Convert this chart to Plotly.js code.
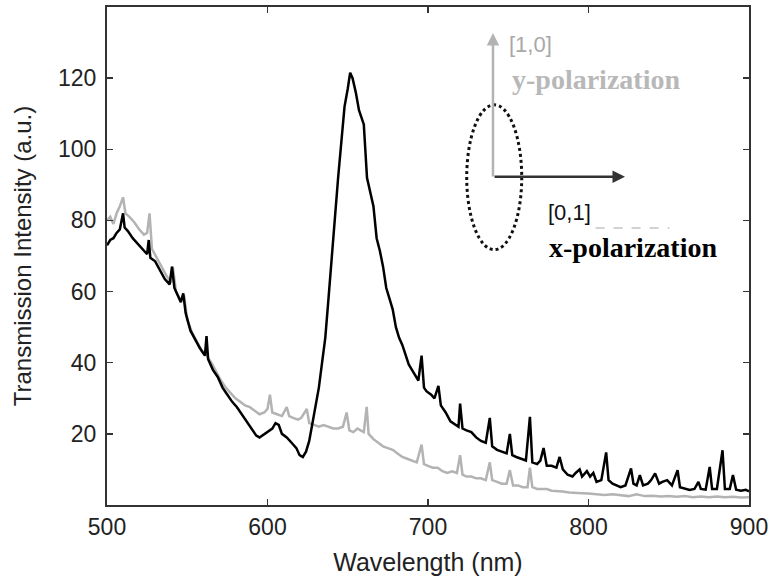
<!DOCTYPE html>
<html>
<head>
<meta charset="utf-8">
<script src="https://cdn.plot.ly/plotly-3.0.1.min.js"></script>
<style>html,body{margin:0;padding:0;background:#fff;}#chart{width:771px;height:581px;}</style>
</head>
<body>
<div id="chart"></div>
<script>
// x-polarization (black) spectrum
const wlX = [500,502,504,506,508,510,511,513,516,519,522,525,526,527,530,533,536,539,540.5,542,545,546,547.5,549,552,555,558,561,562,563,566,569,572,575,578,581,584,587,590,593,595,598,601,603,605,607,609,612,615,618,620,622,624,626,628,630,632,634,636,638,640,642,644,646,648,650,651.5,653,655,657,659,660,662,664,666,668,670,672,674,676,678,680,682,684,686,688,690,692,694,696,697.5,699,702,704,706.5,708,711,714,717,719,720,721.5,724,727,730,733,736,738.5,740,743,746,749,751,752.5,755,758,761,763.5,765,768,770,772,774,777,780,782,784,787,790,792,794.5,796,799,801,803,805,808,811,812.5,815,818,820,823,826.5,828,830,832,834,837,839,841.5,844,846,849,852,855.5,857,860,863,866,868.5,870,873,875.5,877,880,883.5,885,888,890,892,895,898,900];
const intX = [73,74.5,75,76.5,77.5,82,78,77,75,73.5,72,70.5,74.5,69.5,68.5,66,63.5,62,67,61,58,57,59.5,54,49,46.5,44,42,47.5,41,38,36,33,31,29,27.5,25.5,23.5,21.5,19.5,19,20,21,21.5,23,22.5,20,19,17.5,16,14,13.5,15,18,23,27.5,33,40,47,58,70,81,92,102,112,117,121.5,120,116,111,108,107,92,88,84,75,71.5,67,61,58,55,50,47,45,42.5,39.5,38,36.5,35,42,33,32,31,30,33.5,28,26,23.5,22.5,22,28.5,21.5,21,20.5,19,18,17.5,24.5,16.5,15.5,15,14.5,20,14,13.5,13,12.5,24.8,12,11.5,12.5,16,11,11,10.5,13.5,10,8.5,8,9,10,8,9.5,8,9,6.5,7,14.8,7,6,5.5,5,5.5,10.3,6,5.5,8.4,5.5,6,7,8.9,6,6.5,7,5.5,9.8,5,4.5,4.2,4.5,6.5,4.5,4.3,10.7,4.5,4.5,15.4,4.5,4.5,8.4,4.3,4,4.3,3.8];

// y-polarization (gray) spectrum
const wlY = [500,502,504,506,508,510,511.5,514,517,520,523,525,526.5,528,531,534,537,540,541,543,546,548,550,553,556,559,562,565,568,571,574,577,580,583,586,589,592,595,598,600,601.5,603,606,609,612,613.5,616,619,621,624.5,626,629,632,635,638,641,644,647,649.3,651,653.5,656,658,660,661.8,663,666,669,672,675,678,681,684,687,690,693,696,697.5,700,703,706,709,712,715,718,720,721.5,724,727,730,733,736,738.5,740,743,746,749,751,753,756,759,762,763.5,765,768,771,774,777,780,784,788,792,796,800,805,810,815,820,825,830,835,840,845,850,855,860,865,870,875,880,885,890,895,900];
const intY = [80,81,79,82,84,86.5,82,81,79.5,77.5,76,76.5,82,72,69.5,67,64.5,62.5,67,60,57.5,59,52,48.5,46,43.5,42,40,37.5,35,33,31.5,30,29,28,27.5,26.5,25.5,26,27,31,26,25.5,25,27.5,25,24.5,24,24.5,27,23,22.5,22,22.5,22,21.5,21.5,22,26,21,20.5,21.5,21,20.5,27.6,20,18.5,17.5,16.5,16,15.5,14.5,13.5,13,12.5,12,17,11.5,11,10.5,10.5,9.5,9,9.5,9,14,8.5,8,8,7.5,7.5,7,12,7,6.5,6,6,9.8,5.5,5.5,5,5,10.5,5,4.5,4.5,4.5,4,4,3.8,3.5,3.5,3.3,3.2,3,2.8,3,2.7,2.5,3,2.5,2.6,2.4,2.5,2.3,2.5,2.2,2.4,2.2,2.4,2.2,2.3,2.1,2.2];

const xTicks = [500,600,700,800,900];
const yTicks = [20,40,60,80,100,120];
const xTitle = 'Wavelength (nm)';
const yTitle = 'Transmission Intensity (a.u.)';

const traces = [
  {x: wlY, y: intY, type: 'scatter', mode: 'lines', name: 'y-polarization',
   line: {color: '#b3b3b3', width: 2.5}},
  {x: wlX, y: intX, type: 'scatter', mode: 'lines', name: 'x-polarization',
   line: {color: '#000000', width: 2.5}}
];

const font = 'Liberation Sans, Arial, Helvetica, sans-serif';
const serif = 'Liberation Serif, Times New Roman, serif';

const layout = {
  width: 771, height: 581,
  margin: {l: 107, r: 22, t: 7, b: 76},
  paper_bgcolor: '#fff', plot_bgcolor: '#fff',
  showlegend: false,
  font: {family: font, color: '#222', size: 23},
  xaxis: {
    range: [500, 900], tickvals: xTicks, ticktext: xTicks.map(String),
    ticks: 'inside', ticklen: 6, tickwidth: 1.5, tickcolor: '#333',
    showline: true, linecolor: '#333', linewidth: 2, mirror: 'ticks',
    showgrid: false, zeroline: false,
    tickfont: {size: 23, family: font, color: '#222'},
    title: {text: xTitle, font: {size: 25, family: font, color: '#222'}, standoff: 15}
  },
  yaxis: {
    range: [0, 140], tickvals: yTicks, ticktext: yTicks.map(String),
    ticks: 'inside', ticklen: 6, tickwidth: 1.5, tickcolor: '#333',
    showline: true, linecolor: '#333', linewidth: 2, mirror: 'ticks',
    showgrid: false, zeroline: false, ticklabelstandoff: 4,
    tickfont: {size: 23, family: font, color: '#222'},
    title: {text: yTitle, font: {size: 24, family: font, color: '#222'}, standoff: 20}
  },
  shapes: [
    {type: 'circle', xref: 'paper', yref: 'paper', x0: 0.5603, x1: 0.646, y0: 0.5127, y1: 0.8035,
     line: {color: '#111', width: 3, dash: 'dot'}},
    {type: 'line', xref: 'paper', yref: 'paper', x0: 0.761, x1: 0.876, y0: 0.556, y1: 0.556,
     line: {color: '#c4c4c4', width: 1.5, dash: 'dash'}}
  ],
  annotations: [
    {xref: 'paper', yref: 'paper', x: 0.6012, y: 0.9479, showarrow: true, axref: 'pixel', ayref: 'pixel',
     ax: 0, ay: 145, arrowcolor: '#b3b3b3', arrowwidth: 2.5, arrowhead: 2, arrowsize: 1, text: ''},
    {xref: 'paper', yref: 'paper', x: 0.8069, y: 0.6591, showarrow: true, axref: 'pixel', ayref: 'pixel',
     ax: -132, ay: 0, arrowcolor: '#333', arrowwidth: 2.5, arrowhead: 2, arrowsize: 1, text: ''},
    {xref: 'paper', yref: 'paper', x: 0.6226, y: 0.9238, xanchor: 'left', yanchor: 'middle', showarrow: false,
     text: '[1,0]', font: {family: font, size: 22, color: '#a8a8a8'}},
    {xref: 'paper', yref: 'paper', x: 0.6277, y: 0.8536, xanchor: 'left', yanchor: 'middle', showarrow: false,
     text: '<b>y-polarization</b>', font: {family: serif, size: 28, color: '#b8b8b8'}},
    {xref: 'paper', yref: 'paper', x: 0.6838, y: 0.5869, xanchor: 'left', yanchor: 'middle', showarrow: false,
     text: '[0,1]', font: {family: font, size: 22, color: '#111'}},
    {xref: 'paper', yref: 'paper', x: 0.6849, y: 0.5167, xanchor: 'left', yanchor: 'middle', showarrow: false,
     text: '<b>x-polarization</b>', font: {family: serif, size: 28, color: '#000'}}
  ]
};

Plotly.newPlot('chart', traces, layout, {displayModeBar: false, staticPlot: true});
</script>
</body>
</html>
